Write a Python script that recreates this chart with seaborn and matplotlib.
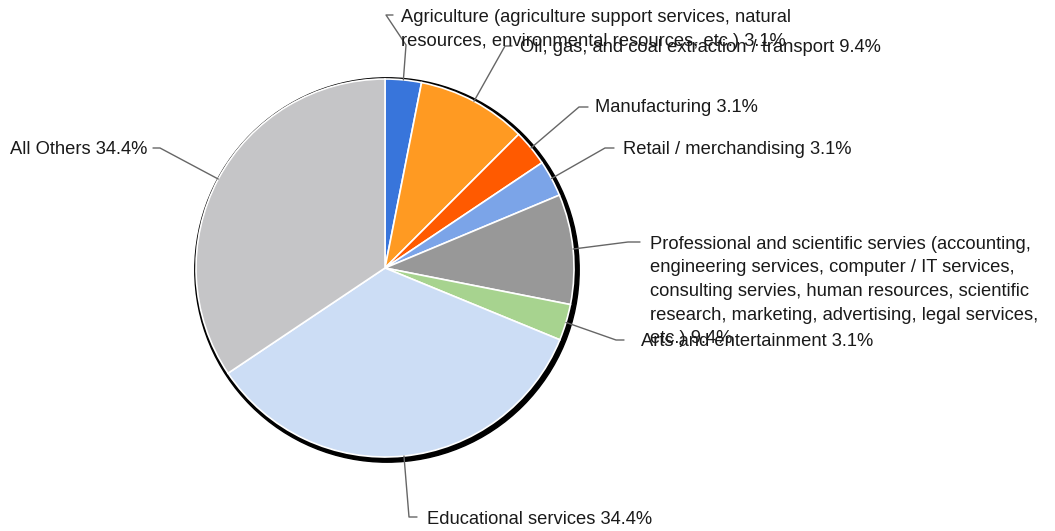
import numpy as np
import matplotlib
matplotlib.use("Agg")
import matplotlib.pyplot as plt
from matplotlib.patches import Circle
import seaborn as sns

sns.set_theme(style="white")
plt.rcParams["font.family"] = ["Liberation Sans", "DejaVu Sans"]

# data
sectors = [
    "Agriculture (agriculture support services, natural\nresources, environmental resources, etc.)",
    "Oil, gas, and coal extraction / transport",
    "Manufacturing",
    "Retail / merchandising",
    "Professional and scientific servies (accounting,\nengineering services, computer / IT services,\n"
    "consulting servies, human resources, scientific\nresearch, marketing, advertising, legal services,\netc.)",
    "Arts and entertainment",
    "Educational services",
    "All Others",
]
shares = [3.1, 9.4, 3.1, 3.1, 9.4, 3.1, 34.4, 34.4]
colors = ["#3875DB", "#FF9A22", "#FF5A00", "#7BA4E8", "#989898", "#A7D38F", "#CCDDF5", "#C5C5C7"]

W, H = 1055, 531
CX, CY, R = 385, 268, 189

# label layout in pixel coords (y down): text x, text y, ha, va, elbow, end of leader
layout = [
    (401, 9, "left", "top", (406, 45), (386, 15), (393, 15)),
    (520, 47, "left", "center", (505, 46), (505, 46), (512, 46)),
    (595, 108, "left", "center", (579, 107), (579, 107), (588, 107)),
    (623, 150, "left", "center", (605, 148), (605, 148), (614, 148)),
    (650, 236, "left", "top", (628, 242), (628, 242), (640, 242)),
    (641, 342, "left", "center", (616, 340), (616, 340), (624, 340)),
    (427, 519, "left", "center", (409, 517), (409, 517), (417, 517)),
    (147, 150, "right", "center", (160, 148), (160, 148), (153, 148)),
]


def fy(y):
    return H - y


fig = plt.figure(figsize=(W / 100, H / 100), dpi=100)
ax = fig.add_axes([0, 0, 1, 1])

# shadow ring
ax.add_patch(Circle((CX + 2.0, fy(CY) - 2.0), R + 3.2, color="black", zorder=1))

wedges, _ = ax.pie(
    shares,
    colors=colors,
    startangle=90,
    counterclock=False,
    center=(CX, fy(CY)),
    radius=R,
    frame=True,
    wedgeprops=dict(edgecolor="white", linewidth=1.2, zorder=2),
)
ax.set_xlim(0, W)
ax.set_ylim(0, H)
ax.axis("off")

for wedge, name, share, lay in zip(wedges, sectors, shares, layout):
    tx, ty, ha, va, p1, p2, p3 = lay
    mid = np.deg2rad((wedge.theta1 + wedge.theta2) / 2)
    ax_ = CX + R * np.cos(mid)
    ay_ = fy(CY) + R * np.sin(mid)
    xs = [ax_, p1[0], p2[0], p3[0]]
    ys = [ay_, fy(p1[1]), fy(p2[1]), fy(p3[1])]
    ax.plot(xs, ys, color="#666666", lw=1, zorder=3)
    ax.text(tx, fy(ty), f"{name} {share}%", ha=ha, va=va, fontsize=13.2,
            color="#1a1a1a", linespacing=1.5, zorder=4)

fig.savefig("out.png", dpi=100)
